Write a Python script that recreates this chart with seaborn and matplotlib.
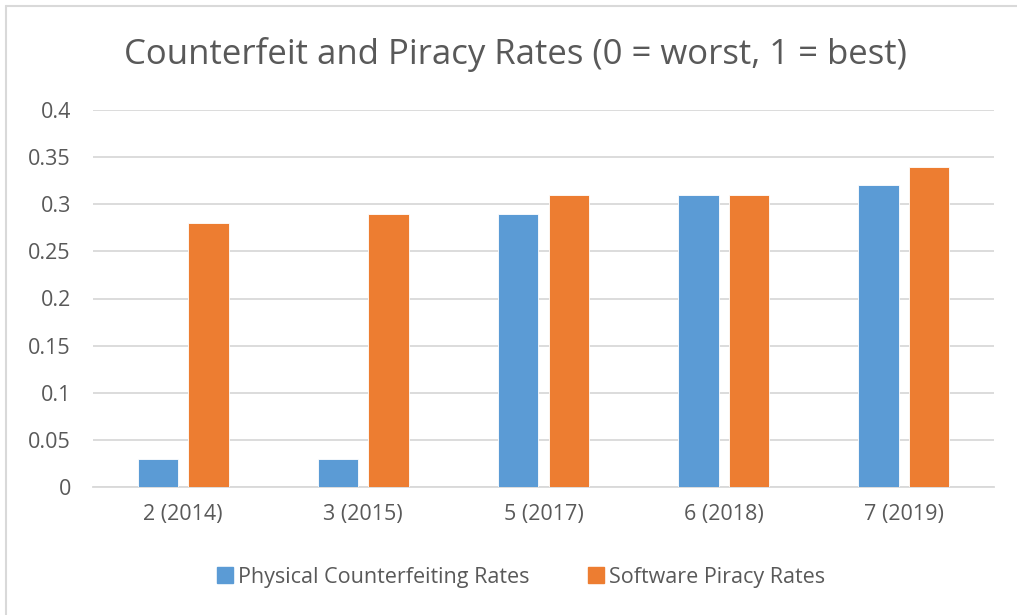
import numpy as np
import pandas as pd
import matplotlib
matplotlib.use('Agg')
import matplotlib.pyplot as plt
import seaborn as sns
from matplotlib.lines import Line2D

categories = ['2 (2014)', '3 (2015)', '5 (2017)', '6 (2018)', '7 (2019)']
physical = [0.03, 0.03, 0.29, 0.31, 0.32]
software = [0.28, 0.29, 0.31, 0.31, 0.34]
series_names = ['Physical Counterfeiting Rates', 'Software Piracy Rates']
yticks = [0, 0.05, 0.1, 0.15, 0.2, 0.25, 0.3, 0.35, 0.4]
ytick_labels = ['0', '0.05', '0.1', '0.15', '0.2', '0.25', '0.3', '0.35', '0.4']

df = pd.DataFrame({
    'year': categories * 2,
    'rate': physical + software,
    'series': [series_names[0]] * len(categories) + [series_names[1]] * len(categories),
})

sns.set_style('white')
plt.rcParams['font.family'] = ['Open Sans', 'DejaVu Sans']
txt = '#595959'
grid_c = '#D9D9D9'
palette = {series_names[0]: '#5B9BD5', series_names[1]: '#ED7D31'}

fig = plt.figure(figsize=(10.17, 6.15), dpi=100)
ax = fig.add_axes([93 / 1017, 1 - 487 / 615, (994 - 93) / 1017, (487 - 110) / 615])

sns.barplot(data=df, x='year', y='rate', hue='series', order=categories,
            hue_order=series_names, palette=palette, width=0.56, gap=0.2,
            saturation=1, edgecolor='white', linewidth=0.6, ax=ax, legend=False, zorder=3)

ax.set_ylim(0, 0.4)
ax.set_xlim(-0.5, len(categories) - 0.5)
ax.set_yticks(yticks)
ax.set_yticklabels(ytick_labels)
ax.yaxis.grid(True, color=grid_c, lw=1.3, zorder=0)
ax.set_axisbelow(True)
for s in ['top', 'right', 'left']:
    ax.spines[s].set_visible(False)
ax.spines['bottom'].set_color(grid_c)
ax.spines['bottom'].set_linewidth(1.3)
ax.tick_params(axis='both', length=0, labelsize=15.5, colors=txt)
ax.tick_params(axis='y', pad=16)
ax.tick_params(axis='x', pad=12)
ax.set_xlabel('')
ax.set_ylabel('')

fig.text(515 / 1017, 1 - 55 / 615, 'Counterfeit and Piracy Rates (0 = worst, 1 = best)',
         ha='center', va='center', fontsize=25, color=txt)

handles = [Line2D([], [], marker='s', linestyle='', markersize=11,
                  markerfacecolor=palette[n], markeredgecolor=palette[n]) for n in series_names]
fig.legend(handles, series_names, loc='center', bbox_to_anchor=(520 / 1017, 1 - 577 / 615),
           ncol=2, frameon=False, fontsize=15.5, labelcolor=txt, handletextpad=0.1,
           columnspacing=2.6, handlelength=1.0)

# chart border (top and left visible)
fig.add_artist(Line2D([6 / 1017, 6 / 1017], [0, 1 - 6 / 615], color=grid_c, lw=1.5))
fig.add_artist(Line2D([6 / 1017, 1], [1 - 6 / 615, 1 - 6 / 615], color=grid_c, lw=1.5))

fig.savefig('out.png', dpi=100)
